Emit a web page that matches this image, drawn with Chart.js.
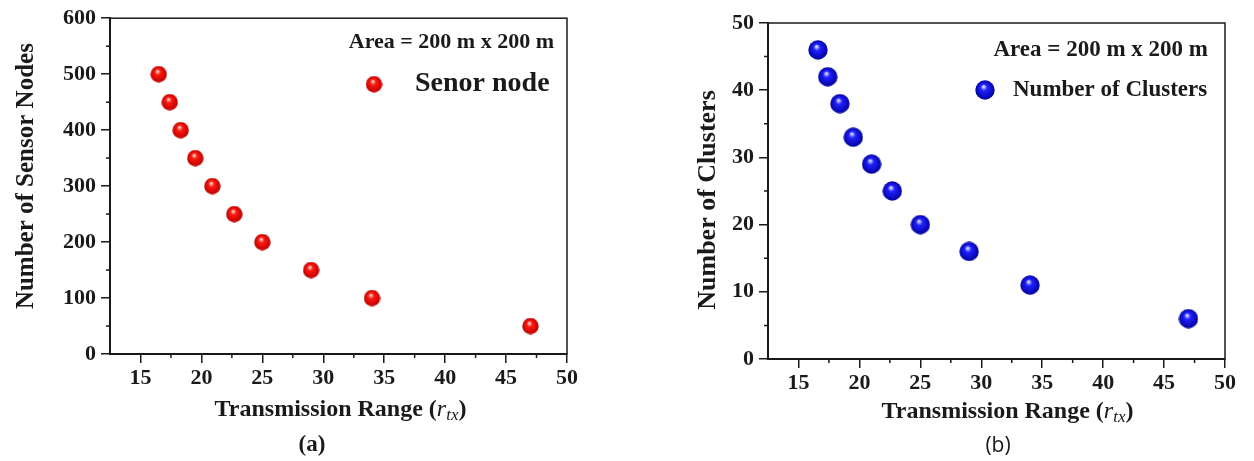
<!DOCTYPE html>
<html>
<head>
<meta charset="utf-8">
<script src="https://cdn.jsdelivr.net/npm/chart.js@4.4.1/dist/chart.umd.min.js"></script>
<style>
  body { margin: 0; background: #fff; width: 1254px; height: 461px; position: relative; overflow: hidden; }
  .panel { position: absolute; top: 0; width: 620px; height: 461px; }
  .tag { position: absolute; top: 431px; line-height: 26px; color: #1a1a1a; transform: translateX(-50%); }
</style>
</head>
<body>
<div class="panel" style="left:0"><canvas id="chartA" width="620" height="461"></canvas></div>
<div class="panel" style="left:634px"><canvas id="chartB" width="620" height="461"></canvas></div>
<div class="tag" style="left:312px; font-family:'Liberation Serif', serif; font-weight:bold; font-size:23px">(a)</div>
<div class="tag" style="left:998px; font-family:'Open Sans', sans-serif; font-size:21px">(b)</div>
<script>
const rangeA = [16.5, 17.4, 18.3, 19.5, 20.9, 22.7, 25, 29, 34, 47]
const sensorNodes = [500, 450, 400, 350, 300, 250, 200, 150, 100, 50]
const rangeB = [16.6, 17.4, 18.4, 19.5, 21, 22.7, 25, 29, 34, 47]
const clusters = [46, 42, 38, 33, 29, 25, 20, 16, 11, 6]

const xTicks = [15, 20, 25, 30, 35, 40, 45, 50]
const xMinor = [17.5, 22.5, 27.5, 32.5, 37.5, 42.5, 47.5]
const yTicksA = [0, 100, 200, 300, 400, 500, 600]
const yMinorA = [50, 150, 250, 350, 450, 550]
const yTicksB = [0, 10, 20, 30, 40, 50]
const yMinorB = [5, 15, 25, 35, 45]

const SERIF = "'Liberation Serif', 'Times New Roman', serif"
const INK = "#1a1a1a"

// shaded ball used as point style
function sphere(r, light, mid, dark) {
  const c = document.createElement("canvas")
  c.width = c.height = Math.ceil(r * 2)
  const g = c.getContext("2d")
  const grad = g.createRadialGradient(r * 0.85, r * 0.65, r * 0.05, r, r, r)
  grad.addColorStop(0, light)
  grad.addColorStop(0.3, mid)
  grad.addColorStop(1, dark)
  g.fillStyle = grad
  g.beginPath()
  g.arc(r, r, r - 0.3, 0, Math.PI * 2)
  g.fill()
  return c
}

const redBall = sphere(8.5, "#ffe4dc", "#ff1a10", "#b80000")
const blueBall = sphere(10, "#dfe2ff", "#2020ff", "#00009a")

const decorPlugin = {
  id: "decor",
  afterDraw(chart, args, o) {
    const { ctx, chartArea: a, scales: { x, y } } = chart
    ctx.save()
    ctx.strokeStyle = INK
    ctx.lineWidth = 1.5
    ctx.strokeRect(a.left, a.top, a.right - a.left, a.bottom - a.top)

    // minor ticks
    ctx.beginPath()
    xMinor.forEach((v) => {
      const px = x.getPixelForValue(v)
      ctx.moveTo(px, a.bottom)
      ctx.lineTo(px, a.bottom + 4)
    })
    o.yMinor.forEach((v) => {
      const py = y.getPixelForValue(v)
      ctx.moveTo(a.left, py)
      ctx.lineTo(a.left - 4, py)
    })
    ctx.stroke()

    // legend box text
    ctx.fillStyle = INK
    ctx.textBaseline = "middle"
    ctx.textAlign = "right"
    ctx.font = "bold " + o.areaSize + "px " + SERIF
    ctx.fillText("Area = 200 m x 200 m", a.right - o.areaDx, a.top + o.areaDy)
    const b = o.ball.width / 2
    ctx.drawImage(o.ball, a.right - o.markDx - b, a.top + o.markDy - b)
    ctx.textAlign = "left"
    ctx.font = "bold " + o.labelSize + "px " + SERIF
    ctx.fillText(o.label, a.right - o.labelDx, a.top + o.markDy)

    // y title
    ctx.save()
    ctx.translate(o.yTitleX, (a.top + a.bottom) / 2 + o.yTitleDy)
    ctx.rotate(-Math.PI / 2)
    ctx.textAlign = "center"
    ctx.font = "bold " + o.yTitleSize + "px " + SERIF
    ctx.fillText(o.yTitle, 0, 0)
    ctx.restore()

    // x title with subscript
    const parts = [
      ["Transmission Range (", "bold 24px " + SERIF, 0],
      ["r", "italic 24px " + SERIF, 0],
      ["tx", "italic 17px " + SERIF, 6],
      [")", "bold 24px " + SERIF, 0]
    ]
    let total = 0
    parts.forEach((p) => {
      ctx.font = p[1]
      total += ctx.measureText(p[0]).width
    })
    let cx = (a.left + a.right) / 2 + o.titleDx - total / 2
    const cy = a.bottom + o.titleDy
    parts.forEach((p) => {
      ctx.font = p[1]
      ctx.fillText(p[0], cx, cy + p[2])
      cx += ctx.measureText(p[0]).width
    })
    ctx.restore()
  }
}

function makeChart(id, xs, ys, o) {
  return new Chart(document.getElementById(id), {
    type: "scatter",
    data: {
      datasets: [
        {
          label: o.label,
          data: xs.map((v, i) => ({ x: v, y: ys[i] })),
          pointStyle: o.ball,
          pointRadius: 9,
          clip: false
        }
      ]
    },
    options: {
      responsive: false,
      animation: false,
      devicePixelRatio: 1,
      layout: { padding: { left: 0, top: o.top, right: o.right, bottom: 461 - o.bottom - 60 } },
      plugins: { legend: { display: false }, tooltip: { enabled: false }, decor: o },
      scales: {
        x: {
          type: "linear",
          min: 12.5,
          max: 50,
          afterBuildTicks: (s) => { s.ticks = xTicks.map((v) => ({ value: v })) },
          afterFit: (s) => { s.height = 60 },
          grid: { drawOnChartArea: false, tickLength: 9, color: INK, lineWidth: 1.5 },
          border: { color: INK, width: 2 },
          ticks: { color: INK, padding: 2, font: { family: SERIF, size: 22, weight: "bold" } }
        },
        y: {
          min: 0,
          max: o.yTicks[o.yTicks.length - 1],
          afterBuildTicks: (s) => { s.ticks = o.yTicks.map((v) => ({ value: v })) },
          afterFit: (s) => { s.width = o.left },
          grid: { drawOnChartArea: false, tickLength: 9, color: INK, lineWidth: 1.5 },
          border: { color: INK, width: 2 },
          ticks: { color: INK, padding: 5, font: { family: SERIF, size: 22, weight: "bold" } }
        }
      }
    },
    plugins: [decorPlugin]
  })
}

makeChart("chartA", rangeA, sensorNodes, {
  label: "Senor node",
  ball: redBall,
  yTicks: yTicksA,
  yMinor: yMinorA,
  yTitle: "Number of Sensor Nodes",
  yTitleX: 27, yTitleDy: -10, yTitleSize: 25,
  left: 110, right: 53, top: 18, bottom: 354,
  areaSize: 22, areaDx: 13, areaDy: 24,
  markDy: 66, markDx: 193, labelDx: 152, labelSize: 28,
  titleDx: 2, titleDy: 56
})

makeChart("chartB", rangeB, clusters, {
  label: "Number of Clusters",
  ball: blueBall,
  yTicks: yTicksB,
  yMinor: yMinorB,
  yTitle: "Number of Clusters",
  yTitleX: 74, yTitleDy: 9, yTitleSize: 26,
  left: 134, right: 29, top: 23, bottom: 359,
  areaSize: 23, areaDx: 17, areaDy: 27,
  markDy: 67, markDx: 240, labelDx: 212, labelSize: 23,
  titleDx: 11, titleDy: 53
})
</script>
</body>
</html>
